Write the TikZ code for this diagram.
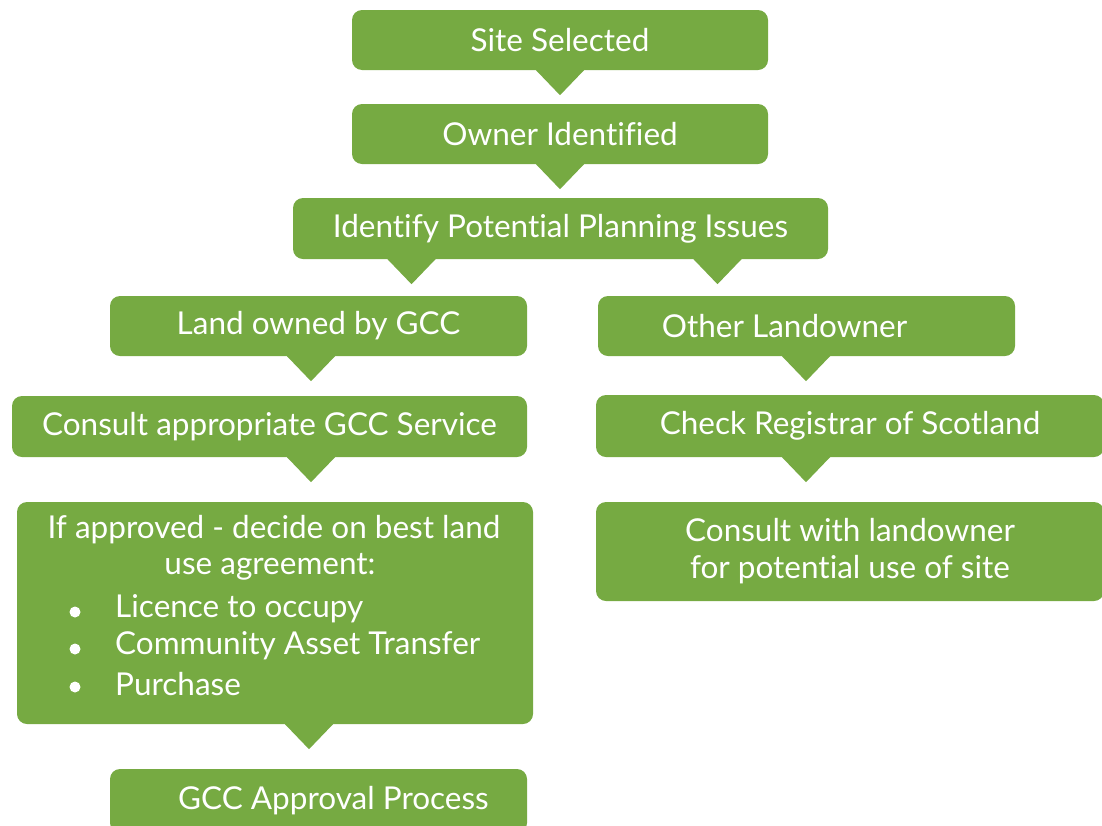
\documentclass[tikz,border=0pt]{standalone}
\usepackage{fontspec}
\setmainfont{Lato}[Ligatures={NoCommon}]
\usetikzlibrary{calc}
\definecolor{leaf}{RGB}{118,170,66}
% downward pointer under a box: node, x offset from its centre
\newcommand\pointer[2]{%
  \fill[leaf] ($(#1.south)+(#2,0)$) ++(-25,-1) -- ++(50,0) -- ++(-25,26) -- cycle;}
\begin{document}
\begin{tikzpicture}[x=1pt,y=-1pt,
  box/.style={fill=leaf, rounded corners=10pt, text=white, inner sep=0pt,
    align=center, font=\fontsize{31.5}{37}\selectfont},
  txt/.style={text=white, inner sep=0pt, font=\fontsize{31.5}{37}\selectfont},
  dot/.style={circle, fill=white, inner sep=0pt, minimum size=11pt}]
\useasboundingbox (0,0) rectangle (1102,825);

\node[box, minimum width=416pt, minimum height=60pt] (ss) at (560,40) {Site Selected};
\node[box, minimum width=416pt, minimum height=60pt] (oi) at (560,134) {Owner Identified};
\node[box, minimum width=535pt, minimum height=61pt] (pi) at (560.5,228.5) {Identify Potential Planning Issues};
\node[box, minimum width=417pt, minimum height=60pt] (lo) at (318.5,326) {Land owned by GCC};
\node[box, minimum width=417pt, minimum height=60pt] (ol) at (806.5,326) {Other Landowner\hspace*{44pt}};
\node[box, minimum width=515pt, minimum height=61pt] (cs) at (269.5,426.5) {Consult appropriate GCC Service};
\node[box, minimum width=508pt, minimum height=62pt] (cr) at (850,426) {Check Registrar of Scotland};
\node[box, minimum width=516pt, minimum height=222pt] (ia) at (275,613) {};
\node[box, minimum width=508pt, minimum height=99pt] (cl) at (850,551.5)
  {Consult with landowner\\for potential use of site};
\node[box, minimum width=417pt, minimum height=64pt] (ga) at (318.5,801) {\hspace*{30pt}GCC Approval Process};

% contents of the agreement box
\node[txt] (ia1) at (274,530) {If approved - decide on best land};
\node[txt] (ia2) at (270,567) {use agreement:};
\node[dot] (d1) at (75,612) {};
\node[dot] (d2) at (75,649) {};
\node[dot] (d3) at (75,687) {};
\node[txt, anchor=west] (b1) at (115,609) {Licence to occupy};
\node[txt, anchor=west] (b2) at (115,646) {Community Asset Transfer};
\node[txt, anchor=west] (b3) at (115,684) {Purchase};

% pointers leading from each box to the next
\pointer{ss}{0}
\pointer{oi}{0}
\pointer{pi}{-149}
\pointer{pi}{157}
\pointer{lo}{-7.5}
\pointer{ol}{-0.5}
\pointer{cs}{41.5}
\pointer{cr}{-44}
\pointer{ia}{34}
\end{tikzpicture}
\end{document}
